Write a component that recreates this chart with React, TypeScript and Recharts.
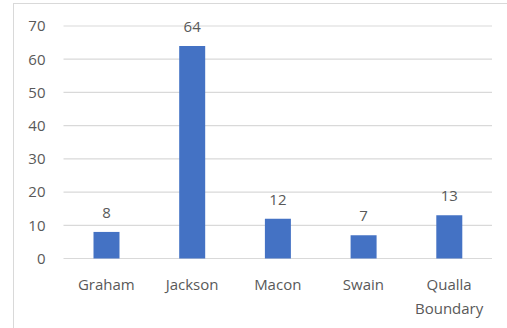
import React from 'react';
import { BarChart, Bar, XAxis, YAxis, CartesianGrid, LabelList } from 'recharts';

// Counts per area
const categories: string[] = ['Graham', 'Jackson', 'Macon', 'Swain', 'Qualla Boundary'];
const counts: number[] = [8, 64, 12, 7, 13];
const yTicks: number[] = [0, 10, 20, 30, 40, 50, 60, 70];

const data = categories.map((name, i) => ({ name, value: counts[i] }));

const FONT = '"Open Sans", "DejaVu Sans", sans-serif';
const TEXT = '#595959';

const CategoryTick = (props: any) => {
  const { x, y, payload } = props;
  const lines = String(payload.value).split(' ');
  return (
    <text x={x} y={y} textAnchor="middle" fill={TEXT} fontFamily={FONT} fontSize={15}>
      {lines.map((line: string, i: number) => (
        <tspan key={i} x={x} dy={i === 0 ? 31.5 : 23.5}>
          {line}
        </tspan>
      ))}
    </text>
  );
};

export default function App() {
  return (
    <div
      style={{
        position: 'absolute',
        left: 0,
        top: 0,
        width: 507,
        height: 328,
        overflow: 'hidden',
        background: '#ffffff',
      }}
    >
      <div
        style={{
          position: 'absolute',
          left: 13,
          top: 3,
          width: 510,
          height: 340,
          border: '1px solid #D9D9D9',
          boxSizing: 'border-box',
        }}
      />
      <div style={{ position: 'absolute', left: 0, top: 0 }}>
        <BarChart
          width={507}
          height={328}
          data={data}
          margin={{ top: 26, right: 15, bottom: 9.5, left: 0 }}
          barCategoryGap="35%"
        >
          <CartesianGrid vertical={false} stroke="#D9D9D9" strokeWidth={1.2} />
          <XAxis
            dataKey="name"
            axisLine={false}
            tickLine={false}
            tickSize={0}
            tickMargin={0}
            height={60}
            interval={0}
            tick={<CategoryTick />}
          />
          <YAxis
            width={63.5}
            domain={[0, 70]}
            ticks={yTicks}
            axisLine={false}
            tickLine={false}
            tickSize={0}
            tickMargin={18}
            tick={{ fill: TEXT, fontFamily: FONT, fontSize: 15 }}
          />
          <Bar dataKey="value" fill="#4472C4" isAnimationActive={false}>
            <LabelList
              dataKey="value"
              position="top"
              offset={14}
              fill={TEXT}
              fontFamily={FONT}
              fontSize={15}
            />
          </Bar>
        </BarChart>
      </div>
    </div>
  );
}
